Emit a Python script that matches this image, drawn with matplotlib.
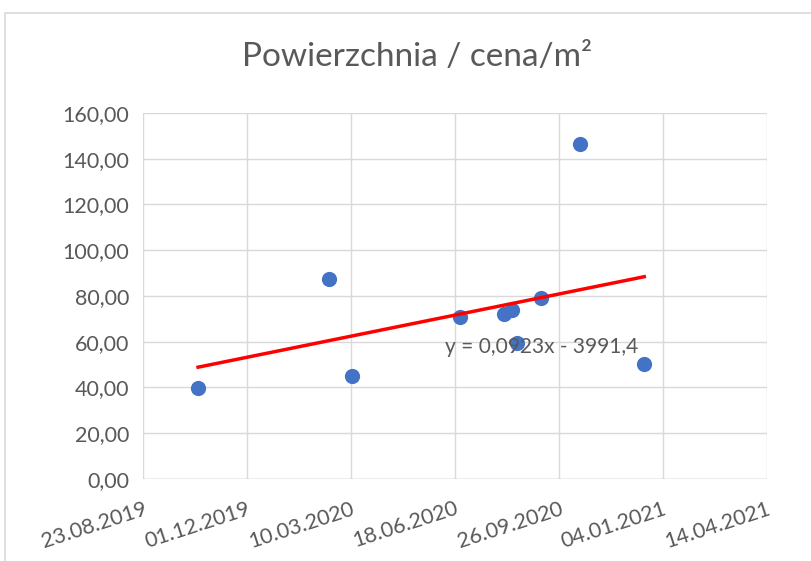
import numpy as np
import pandas as pd
import matplotlib
matplotlib.use("Agg")
import matplotlib.pyplot as plt
import matplotlib.dates as mdates
from matplotlib.patches import Rectangle
from matplotlib.ticker import FuncFormatter

# data
dates = ["15.10.2019", "18.02.2020", "11.03.2020", "23.06.2020", "04.08.2020",
         "12.08.2020", "17.08.2020", "09.09.2020", "16.10.2020", "17.12.2020"]
values = [39.8, 87.4, 45.0, 70.8, 72.1, 73.9, 59.5, 79.1, 146.4, 50.3]
tick_dates = ["23.08.2019", "01.12.2019", "10.03.2020", "18.06.2020",
              "26.09.2020", "04.01.2021", "14.04.2021"]
title = "Powierzchnia / cena/m²"
equation = "y = 0,0923x - 3991,4"

plt.rcParams['font.family'] = ['Lato', 'DejaVu Sans']
TXT = "#595959"

x = mdates.date2num(pd.to_datetime(dates, format="%d.%m.%Y"))
xt = mdates.date2num(pd.to_datetime(tick_dates, format="%d.%m.%Y"))
y = np.array(values)

fig = plt.figure(figsize=(8.11, 5.61), dpi=100)
fig.patches.append(Rectangle((0.006, -0.05), 1.2, 0.9768 + 0.05, transform=fig.transFigure,
                             fill=False, edgecolor="#d9d9d9", lw=1.2))
ax = fig.add_axes([0.1763, 0.1462, 0.9457 - 0.1763, 0.7986 - 0.1462])

ax.scatter(x, y, s=120, color="#4472C4", zorder=3, linewidths=0)

# linear trendline, as Excel draws it
k, b = np.polyfit(x, y, 1)
xl = np.array([x.min(), x.max()])
ax.plot(xl, k * xl + b, color="#ff0000", lw=2.5, zorder=4)
ax.text(x.min() + (x.max() - x.min()) * 0.769, 57.7, equation, ha="center", va="center",
        fontsize=15, color=TXT, zorder=5)

ax.set_xlim(xt[0], xt[-1])
ax.set_ylim(0, 160)
ax.set_xticks(xt)
ax.set_xticklabels(tick_dates, rotation=18, ha="right", rotation_mode="anchor")
ax.set_yticks(np.arange(0, 161, 20))
ax.yaxis.set_major_formatter(FuncFormatter(lambda v, p: f"{v:.2f}".replace(".", ",")))
ax.tick_params(length=0, labelsize=15.5, labelcolor=TXT, pad=10)
ax.tick_params(axis="x", pad=14)
ax.grid(True, color="#d9d9d9", lw=1)
ax.set_axisbelow(True)
for s in ax.spines.values():
    s.set_visible(False)
ax.axhline(0, color="#bfbfbf", lw=1, zorder=2)

fig.text(0.5 * (237 + 598) / 811, 1 - 57 / 561, title, ha="center", va="center",
         fontsize=24, color=TXT)

fig.savefig("out.png", dpi=100)
